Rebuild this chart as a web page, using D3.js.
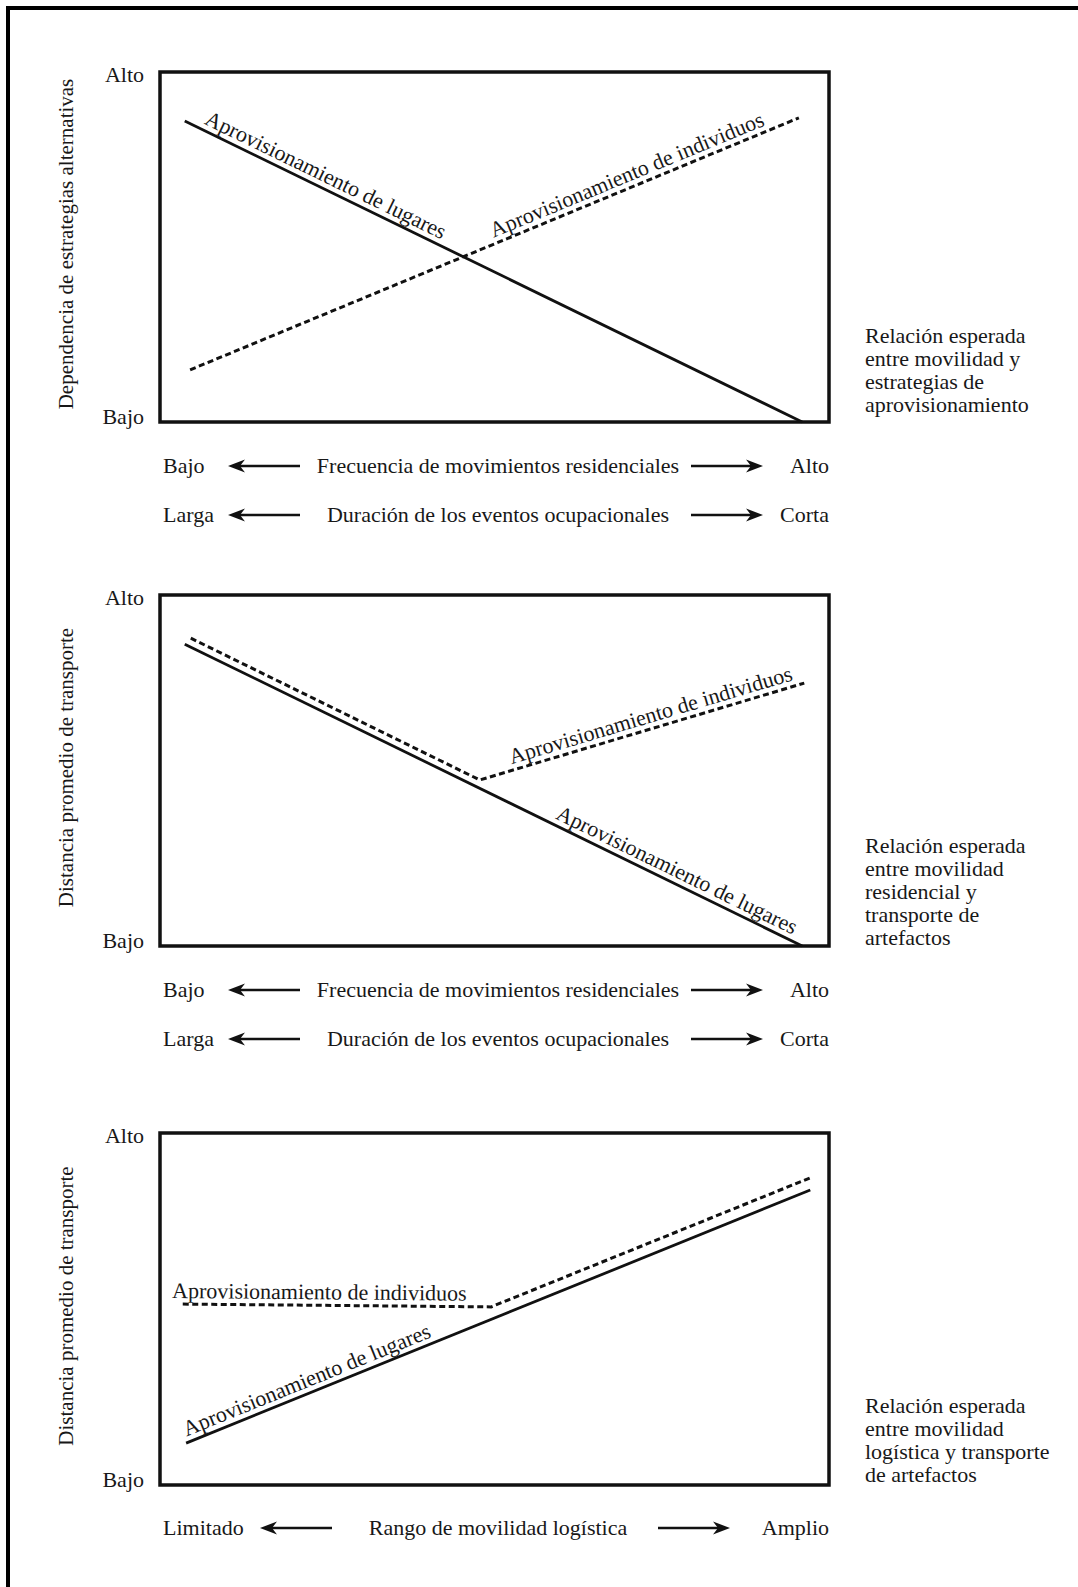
<!DOCTYPE html>
<html>
<head>
<meta charset="utf-8">
<script src="https://cdn.jsdelivr.net/npm/d3@7"></script>
<style>
  html, body { margin: 0; padding: 0; background: #fff; }
  svg { display: block; }
  text { font-family: "Liberation Serif", "Times New Roman", serif; fill: #181818; }
</style>
</head>
<body>
<svg id="chart" width="1078" height="1587"></svg>
<script>
// ---------------- DATA ----------------
const seriesNames = ["Aprovisionamiento de lugares", "Aprovisionamiento de individuos"];
const yTickValues = [0, 1];
const yTickLabels = ["Bajo", "Alto"];
const yTitles = [
  "Dependencia de estrategias alternativas",
  "Distancia promedio de transporte",
  "Distancia promedio de transporte"
];
// "Aprovisionamiento de lugares" (solid)
const lugaresX = [[0.037, 0.960], [0.037, 0.960], [0.039, 0.972]];
const lugaresY = [[0.860, 0.000], [0.860, 0.000], [0.119, 0.838]];
// "Aprovisionamiento de individuos" (dashed)
const individuosX = [[0.045, 0.955], [0.046, 0.478, 0.963], [0.034, 0.495, 0.975]];
const individuosY = [[0.149, 0.869], [0.877, 0.473, 0.749], [0.514, 0.506, 0.875]];
// x-direction captions under each panel: [left, middle, right]
const xRows = [
  [["Bajo", "Frecuencia de movimientos residenciales", "Alto"],
   ["Larga", "Duración de los eventos ocupacionales", "Corta"]],
  [["Bajo", "Frecuencia de movimientos residenciales", "Alto"],
   ["Larga", "Duración de los eventos ocupacionales", "Corta"]],
  [["Limitado", "Rango de movilidad logística", "Amplio"]]
];
const sideNotes = [
  ["Relación esperada", "entre movilidad y", "estrategias de", "aprovisionamiento"],
  ["Relación esperada", "entre movilidad", "residencial y", "transporte de", "artefactos"],
  ["Relación esperada", "entre movilidad", "logística y transporte", "de artefactos"]
];
// series labels placed along lines: [series index, start x (data units)]
const lineLabels = [
  [[0, 0.061], [1, 0.502]],
  [[1, 0.528], [0, 0.586]],
  [[1, 0.018], [0, 0.043]]
];

// ---------------- LAYOUT ----------------
const boxLeft = 160, boxRight = 829;
const boxTops = [72, 595, 1133];
const boxBottoms = [422, 946, 1485];
const rowBaselines = [[473, 522], [997, 1046], [1535]];
const arrowXs = [[228, 300, 691, 763], [228, 300, 691, 763], [260, 332, 658, 730]];
const noteFirstBaselines = [343, 853, 1413];
const noteStep = 23, noteX = 865;
const FS = 22;
const labelOffsets = [-6, -6];

const svg = d3.select("#chart");
svg.append("rect").attr("width", 1078).attr("height", 1587).attr("fill", "#fff");

// outer frame (top and left edges)
svg.append("path")
  .attr("d", "M8,1587 L8,8 L1078,8")
  .attr("fill", "none").attr("stroke", "#000").attr("stroke-width", 4);

function arrow(g, xTip, xTail, y) {
  const dir = xTail > xTip ? 1 : -1;
  g.append("line")
    .attr("x1", xTip + dir * 8).attr("x2", xTail)
    .attr("y1", y).attr("y2", y)
    .attr("stroke", "#111").attr("stroke-width", 2.4);
  g.append("path")
    .attr("d", `M${xTip},${y} L${xTip + dir * 17},${y - 6.5} L${xTip + dir * 12},${y} L${xTip + dir * 17},${y + 6.5} Z`)
    .attr("fill", "#111");
}

for (let p = 0; p < 3; p++) {
  const top = boxTops[p], bottom = boxBottoms[p];
  const x = d3.scaleLinear().domain([0, 1]).range([boxLeft, boxRight]);
  const y = d3.scaleLinear().domain([0, 1]).range([bottom, top]);
  const g = svg.append("g");

  // frame
  g.append("rect")
    .attr("x", boxLeft).attr("y", top)
    .attr("width", boxRight - boxLeft).attr("height", bottom - top)
    .attr("fill", "none").attr("stroke", "#111").attr("stroke-width", 3.5);

  // y axis tick labels
  const ax = g.append("g").attr("transform", `translate(${boxLeft},0)`)
    .call(d3.axisLeft(y).tickValues(yTickValues)
      .tickFormat((d, i) => yTickLabels[i]).tickSize(0).tickPadding(16));
  ax.select(".domain").remove();
  ax.selectAll("text")
    .style("font-family", '"Liberation Serif", "Times New Roman", serif')
    .style("font-size", FS + "px").attr("fill", "#181818")
    .attr("dy", d => d === 1 ? "0.45em" : "0.05em");

  // y title
  g.append("text")
    .attr("transform", `translate(73,${(top + bottom) / 2 - 3}) rotate(-90)`)
    .attr("text-anchor", "middle")
    .style("font-size", "21px")
    .text(yTitles[p]);

  // series
  const line = d3.line().x(d => x(d[0])).y(d => y(d[1]));
  const seriesPts = [
    lugaresX[p].map((v, i) => [v, lugaresY[p][i]]),
    individuosX[p].map((v, i) => [v, individuosY[p][i]])
  ];
  g.append("path").datum(seriesPts[0]).attr("d", line)
    .attr("fill", "none").attr("stroke", "#111").attr("stroke-width", 2.8);
  g.append("path").datum(seriesPts[1]).attr("d", line)
    .attr("fill", "none").attr("stroke", "#111").attr("stroke-width", 3)
    .attr("stroke-dasharray", "6,3.5");

  // labels along lines
  lineLabels[p].forEach(([s, sx]) => {
    const pts = seriesPts[s];
    let k = 0;
    while (k < pts.length - 2 && sx > pts[k + 1][0]) k++;
    const a = pts[k], b = pts[k + 1];
    const t = (sx - a[0]) / (b[0] - a[0]);
    const vy = a[1] + t * (b[1] - a[1]);
    const px = x(sx), py = y(vy);
    const ang = Math.atan2(y(b[1]) - y(a[1]), x(b[0]) - x(a[0])) * 180 / Math.PI;
    g.append("text")
      .attr("transform", `translate(${px},${py}) rotate(${ang})`)
      .attr("y", labelOffsets[s])
      .style("font-size", FS + "px")
      .text(seriesNames[s]);
  });

  // side note
  const note = g.append("text").style("font-size", "22px");
  sideNotes[p].forEach((ln, i) => {
    note.append("tspan").attr("x", noteX).attr("y", noteFirstBaselines[p] + i * noteStep).text(ln);
  });

  // x captions rows with arrows
  xRows[p].forEach((row, r) => {
    const yb = rowBaselines[p][r];
    g.append("text").attr("x", 163).attr("y", yb).style("font-size", FS + "px").text(row[0]);
    g.append("text").attr("x", 498).attr("y", yb).attr("text-anchor", "middle")
      .style("font-size", FS + "px").text(row[1]);
    g.append("text").attr("x", 829).attr("y", yb).attr("text-anchor", "end")
      .style("font-size", FS + "px").text(row[2]);
    const ax4 = arrowXs[p];
    arrow(g, ax4[0], ax4[1], yb - 7);
    arrow(g, ax4[3], ax4[2], yb - 7);
  });
}
</script>
</body>
</html>
